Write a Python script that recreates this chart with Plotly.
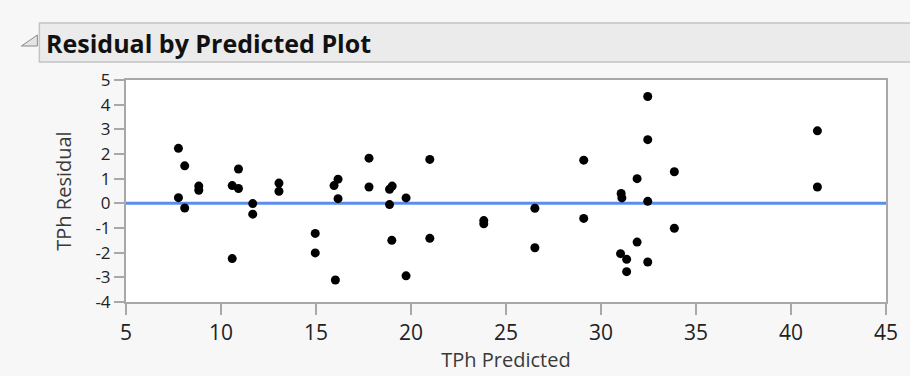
import plotly.graph_objects as go

# ---- data ----
tph_predicted = [7.76, 8.09, 7.76, 8.09, 8.83, 8.83, 10.59, 10.92, 10.92, 10.59,
                 11.67, 11.67, 13.05, 13.05, 14.96, 14.96, 16.02, 15.95, 16.16, 16.16,
                 17.79, 17.79, 18.87, 19.01, 18.87, 19.74, 18.99, 20.99, 20.99, 19.74,
                 23.83, 23.83, 26.52, 26.52, 29.09, 29.09, 31.06, 31.10, 31.03, 31.35,
                 31.35, 31.90, 31.90, 32.46, 32.46, 32.46, 32.46, 33.86, 33.86, 41.39,
                 41.39]
tph_residual = [2.23, 1.52, 0.23, -0.19, 0.70, 0.53, 0.72, 1.39, 0.60, -2.24,
                -0.01, -0.44, 0.82, 0.49, -1.22, -2.01, -3.11, 0.72, 0.98, 0.19,
                1.83, 0.66, 0.57, 0.70, -0.05, 0.22, -1.50, 1.78, -1.42, -2.94,
                -0.70, -0.83, -0.20, -1.80, 1.75, -0.61, 0.40, 0.22, -2.04, -2.27,
                -2.77, 1.00, -1.57, 4.33, 2.58, 0.08, -2.38, 1.28, -1.01, 2.94,
                0.66]
x_ticks = [5, 10, 15, 20, 25, 30, 35, 40, 45]
y_ticks = [5, 4, 3, 2, 1, 0, -1, -2, -3, -4]
title_text = "Residual by Predicted Plot"
x_title = "TPh Predicted"
y_title = "TPh Residual"

W, H = 910, 376
L, R, T, B = 126, 21, 80, 74
PW, PH = W - L - R, H - T - B

def px(xp):
    return (xp - L) / PW

def py(yp):
    return (H - B - yp) / PH

FONT = "Open Sans, Noto Sans, sans-serif"
AX = "#a8a8a8"
TXT = "#222222"

fig = go.Figure()
fig.add_trace(go.Scatter(
    x=tph_predicted, y=tph_residual, mode="markers",
    marker=dict(color="black", size=9, line=dict(width=0)),
    showlegend=False, hoverinfo="x+y"))

shapes = [
    dict(type="rect", xref="paper", yref="paper", x0=px(39), x1=px(915), y0=py(62), y1=py(23),
         fillcolor="#ebebeb", line=dict(color="#c4c4c4", width=1.5), layer="above"),
    dict(type="path", xref="paper", yref="paper",
         path=f"M {px(21)},{py(46)} L {px(37)},{py(46)} L {px(37)},{py(35)} Z",
         fillcolor="#e4e4e4", line=dict(color="#8a8a8a", width=1), layer="above"),
    dict(type="line", xref="paper", yref="y", x0=0, x1=1, y0=0, y1=0,
         line=dict(color="#5b8def", width=3), layer="below"),
]

fig.update_layout(
    width=W, height=H,
    margin=dict(l=L, r=R, t=T, b=B, pad=0),
    paper_bgcolor="#f7f7f7", plot_bgcolor="white",
    font=dict(family=FONT, size=21, color=TXT),
    showlegend=False,
    shapes=shapes,
    annotations=[
        dict(text=f"<b>{title_text}</b>", xref="paper", yref="paper", x=px(44), y=py(43),
             xanchor="left", yanchor="middle", showarrow=False,
             font=dict(family=FONT, size=25, color="#111111")),
    ],
)

fig.update_xaxes(
    range=[5, 45], tickvals=x_ticks, ticktext=[str(v) for v in x_ticks],
    showgrid=False, zeroline=False, showline=True, linecolor=AX, linewidth=2,
    mirror=True, ticks="outside", ticklen=11, tickcolor=AX, tickwidth=1.5,
    tickfont=dict(size=21, color=TXT),
    title=dict(text=x_title, font=dict(size=20, color="#3a3a3a"), standoff=4),
)
fig.update_yaxes(
    range=[-4, 5], tickvals=y_ticks, ticktext=[str(v) for v in y_ticks],
    showgrid=False, zeroline=False, showline=True, linecolor=AX, linewidth=2,
    mirror=True, ticks="outside", ticklen=10, tickcolor=AX, tickwidth=1.5,
    tickfont=dict(size=17, color=TXT),
    title=dict(text=y_title, font=dict(size=20, color="#3a3a3a"), standoff=18),
)

fig.write_html("out.html")
